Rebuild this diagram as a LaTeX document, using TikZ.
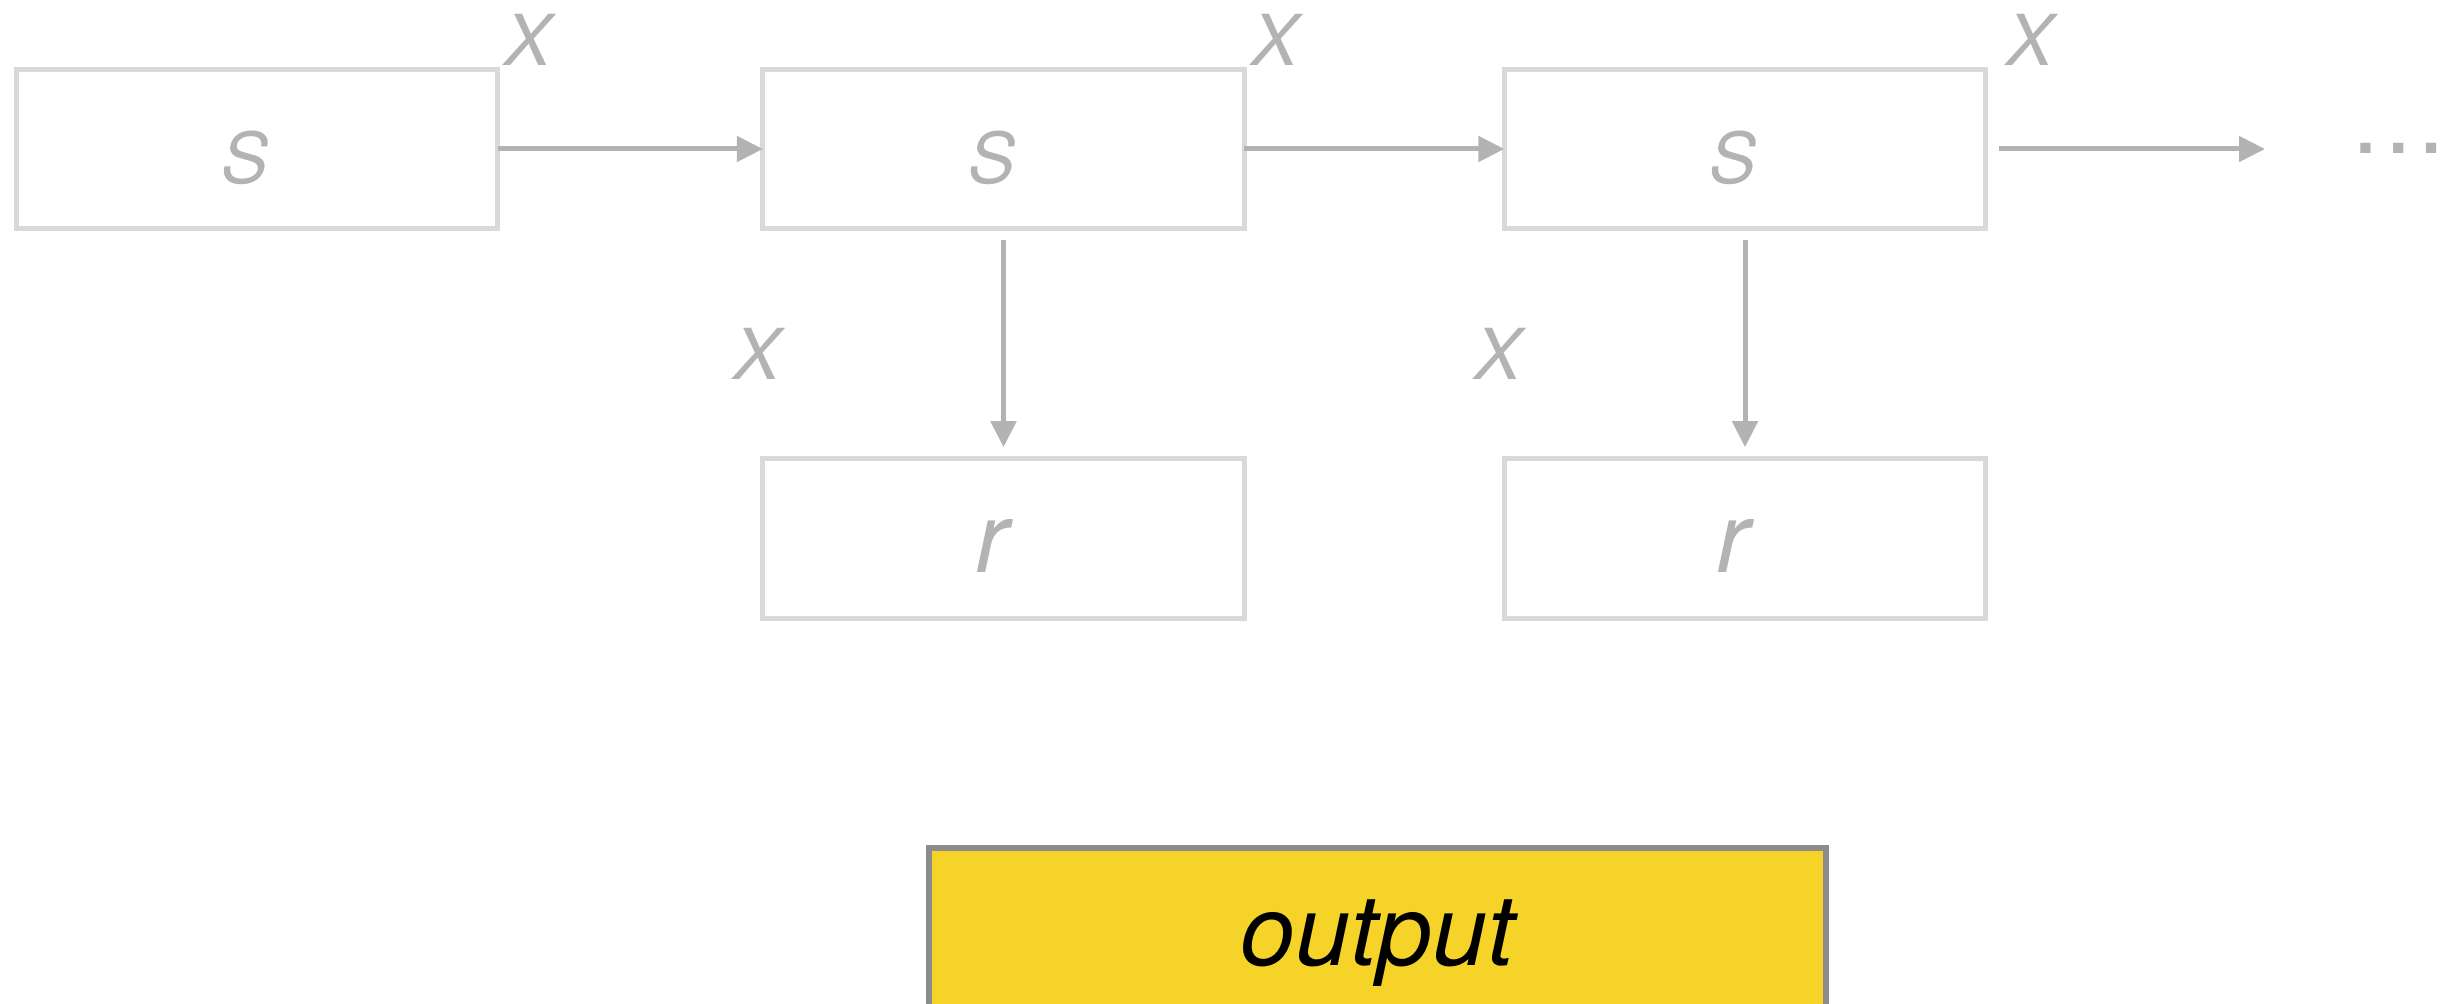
\documentclass[tikz,border=0pt]{standalone}
\usepackage{fontspec}
\setmainfont{TeX Gyre Heros}
\usepackage{tikz}
\usetikzlibrary{arrows.meta}
\definecolor{edgec}{HTML}{D9D9D9}
\definecolor{arrc}{HTML}{B3B3B3}
\definecolor{outc}{HTML}{F5D328}
\definecolor{outedge}{HTML}{8C8C8C}
\tikzset{
  ar/.style={-{Triangle[length=0.26cm,width=0.25cm]},line width=0.05cm,arrc},
  fs/.style={font=\fontsize{20}{24}\selectfont\itshape},
  fr/.style={font=\fontsize{28}{32}\selectfont\itshape},
  box/.style={draw=edgec,line width=0.05cm,minimum width=4.81cm,minimum height=1.595cm,inner sep=0pt,outer sep=0pt,text=arrc,text height=0.68cm,text depth=0pt,execute at begin node={\kern-0.24cm}},
  outbox/.style={fr,draw=outedge,fill=outc,line width=0.055cm,minimum width=8.96cm,minimum height=1.66cm,inner sep=0pt,outer sep=0pt,text=black,text height=0.68cm,text depth=0pt},
  lbl/.style={fs,text=arrc,inner sep=0pt}
}
\begin{document}
\begin{tikzpicture}[x=0.01cm,y=-0.01cm]
\useasboundingbox (0,0) rectangle (2454,1004);
\clip (0,0) rectangle (2454,1004);
% state chain and readouts
\foreach \i/\px in {1/257,2/1003.5,3/1745}{\node[box,fs] (s\i) at (\px,149) {S};}
\foreach \i/\px in {2/1003.5,3/1745}{\node[box,fr] (r\i) at (\px,538.5) {r};}
\draw[ar] (s1) -- (s2);
\draw[ar] (s2) -- (s3);
\coordinate (tail) at (2265,149);
\draw[ar,shorten <=0.135cm] (s3) -- (tail);
\node[fr,text=arrc,inner sep=0pt,anchor=base] (more) at (2398.5,154) {\upshape\ldots};
\foreach \i in {2,3}{\draw[ar,shorten <=0.11cm,shorten >=0.115cm] (s\i) -- (r\i);}
% inputs
\foreach \i/\px in {1/528,2/1275,3/2030}{\node[lbl] (xa\i) at (\px,40) {X};}
\foreach \i/\px in {2/757,3/1498}{\node[lbl] (xs\i) at (\px,354) {X};}
\node[outbox] (out) at (1377.5,931) {output};
\end{tikzpicture}
\end{document}
